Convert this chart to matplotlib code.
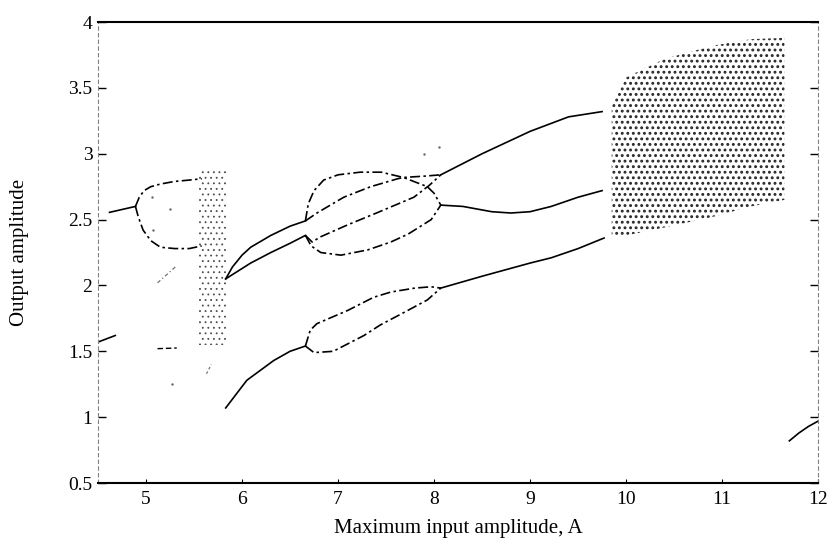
import numpy as np
import matplotlib
matplotlib.use('Agg')
import matplotlib.pyplot as plt

# branches
lead_x = [4.62, 4.89]
lead_y = [2.555, 2.60]
low_lead_x = [4.5, 4.68]
low_lead_y = [1.57, 1.62]

p2_up_x = [4.89, 4.93, 4.98, 5.05, 5.15, 5.3, 5.45, 5.58]
p2_up_y = [2.60, 2.67, 2.72, 2.75, 2.77, 2.79, 2.80, 2.81]
p2_lo_x = [4.89, 4.92, 4.97, 5.05, 5.15, 5.3, 5.45, 5.58]
p2_lo_y = [2.60, 2.52, 2.42, 2.34, 2.29, 2.28, 2.28, 2.30]

stray1_x = [5.12, 5.32]
stray1_y = [1.52, 1.525]
stray2_x = [5.12, 5.32]
stray2_y = [2.02, 2.15]
stray3_x = [5.63, 5.68]
stray3_y = [1.33, 1.40]

up_x = [5.83, 5.9, 6.0, 6.09, 6.3, 6.5, 6.66]
up_y = [2.05, 2.14, 2.23, 2.29, 2.38, 2.45, 2.49]
mid_x = [5.83, 6.09, 6.3, 6.5, 6.66]
mid_y = [2.05, 2.17, 2.25, 2.32, 2.38]
bot_x = [5.83, 6.05, 6.33, 6.5, 6.66]
bot_y = [1.07, 1.28, 1.43, 1.50, 1.54]

# period-4 bubble
c1_x = [6.66, 6.69, 6.75, 6.85, 7.0, 7.23, 7.45, 7.68, 7.9, 8.07]
c1_y = [2.49, 2.62, 2.72, 2.80, 2.84, 2.86, 2.86, 2.82, 2.83, 2.84]
c2_x = [6.66, 6.78, 7.06, 7.34, 7.62, 7.68, 7.93, 8.0, 8.07]
c2_y = [2.49, 2.55, 2.67, 2.75, 2.81, 2.82, 2.75, 2.70, 2.61]
c3_x = [6.66, 6.73, 6.82, 7.1, 7.4, 7.79, 7.95, 8.07]
c3_y = [2.38, 2.33, 2.37, 2.46, 2.55, 2.67, 2.76, 2.84]
c4_x = [6.66, 6.72, 6.82, 7.03, 7.31, 7.55, 7.73, 7.97, 8.07]
c4_y = [2.38, 2.30, 2.25, 2.23, 2.27, 2.33, 2.39, 2.50, 2.61]

# lower bubble
b1_x = [6.66, 6.71, 6.78, 7.1, 7.37, 7.55, 7.8, 7.97, 8.07]
b1_y = [1.54, 1.66, 1.71, 1.81, 1.91, 1.95, 1.98, 1.99, 1.98]
b2_x = [6.66, 6.75, 6.95, 7.27, 7.44, 7.7, 7.93, 8.07]
b2_y = [1.54, 1.49, 1.50, 1.62, 1.70, 1.80, 1.89, 1.98]

top_x = [8.07, 8.5, 9.0, 9.4, 9.75]
top_y = [2.84, 3.0, 3.17, 3.28, 3.32]
cen_x = [8.07, 8.3, 8.6, 8.8, 9.0, 9.22, 9.5, 9.75]
cen_y = [2.61, 2.60, 2.56, 2.55, 2.56, 2.60, 2.67, 2.72]
low_x = [8.07, 8.5, 9.0, 9.22, 9.5, 9.77]
low_y = [1.98, 2.07, 2.17, 2.21, 2.28, 2.36]
tail_x = [11.7, 11.8, 11.9, 12.0]
tail_y = [0.82, 0.88, 0.93, 0.97]

# chaotic bands (boundaries)
chaos1_x = [5.55, 5.83]
chaos1_top = [2.87, 2.87]
chaos1_bot = [1.55, 1.55]
chaos2_x = [9.85, 10.0, 10.4, 10.9, 11.3, 11.65]
chaos2_top = [3.36, 3.58, 3.72, 3.82, 3.87, 3.88]
chaos2_bot = [2.37, 2.38, 2.44, 2.52, 2.60, 2.65]

dots_x = [5.06, 5.25, 5.07, 5.27, 7.9, 8.05]
dots_y = [2.67, 2.58, 2.42, 1.25, 3.0, 3.05]

xticks = [5, 6, 7, 8, 9, 10, 11, 12]
yticks = [0.5, 1, 1.5, 2, 2.5, 3, 3.5, 4]
ytick_labels = ['0.5', '1', '1.5', '2', '2.5', '3', '3.5', '4']

plt.rcParams['font.family'] = 'Liberation Serif'

fig = plt.figure(figsize=(8.34, 5.51), dpi=100)
ax = fig.add_axes([0.1175, 0.1234, 0.8635, 0.8366])

solid = dict(color='black', lw=1.2)
dashed = dict(color='black', lw=1.2, ls=(0, (6, 2, 1.5, 2)))

ax.plot(lead_x, lead_y, **solid)
ax.plot(low_lead_x, low_lead_y, **solid)
ax.plot(p2_up_x, p2_up_y, **dashed)
ax.plot(p2_lo_x, p2_lo_y, **dashed)
ax.plot(stray1_x, stray1_y, color='black', lw=1.0, ls=(0, (4, 2)))
ax.plot(stray2_x, stray2_y, color='0.45', lw=0.9, ls=(0, (3, 2, 1, 2)))
ax.plot(stray3_x, stray3_y, color='0.45', lw=0.9, ls=(0, (2, 2)))

for xs, ys in [(up_x, up_y), (mid_x, mid_y), (bot_x, bot_y),
               (top_x, top_y), (cen_x, cen_y), (low_x, low_y), (tail_x, tail_y)]:
    ax.plot(xs, ys, **solid)

for xs, ys in [(c1_x, c1_y), (c2_x, c2_y), (c3_x, c3_y), (c4_x, c4_y),
               (b1_x, b1_y), (b2_x, b2_y)]:
    ax.plot(xs, ys, **dashed)

# chaotic regions drawn as stippled fills
plt.rcParams['hatch.linewidth'] = 0.6
ax.fill_between(chaos1_x, chaos1_bot, chaos1_top, facecolor='none',
                edgecolor='0.3', hatch='...', lw=0)
plt.rcParams['hatch.linewidth'] = 1.3
ax.fill_between(chaos2_x, chaos2_bot, chaos2_top, facecolor='none',
                edgecolor='0.15', hatch='...', lw=0)
ax.scatter(dots_x, dots_y, s=3, color='0.4', lw=0)

ax.set_xlim(4.5, 12)
ax.set_ylim(0.5, 4)
ax.set_xticks(xticks)
ax.set_yticks(yticks)
ax.set_yticklabels(ytick_labels)
ax.tick_params(axis='y', which='major', direction='in', length=6, width=1,
               labelsize=14, left=True, right=True, pad=4)
ax.tick_params(axis='x', which='major', direction='in', length=3, width=0.8,
               labelsize=14, pad=6)

for s in ['top', 'bottom']:
    ax.spines[s].set_linewidth(1.5)
for s in ['left', 'right']:
    ax.spines[s].set_linewidth(0.8)
    ax.spines[s].set_color('0.5')
    ax.spines[s].set_linestyle((0, (3, 3)))

ax.set_xlabel('Maximum input amplitude, A', fontsize=15, labelpad=8)
ax.set_ylabel('Output amplitude', fontsize=15, labelpad=28)

fig.savefig('out.png', dpi=100)
